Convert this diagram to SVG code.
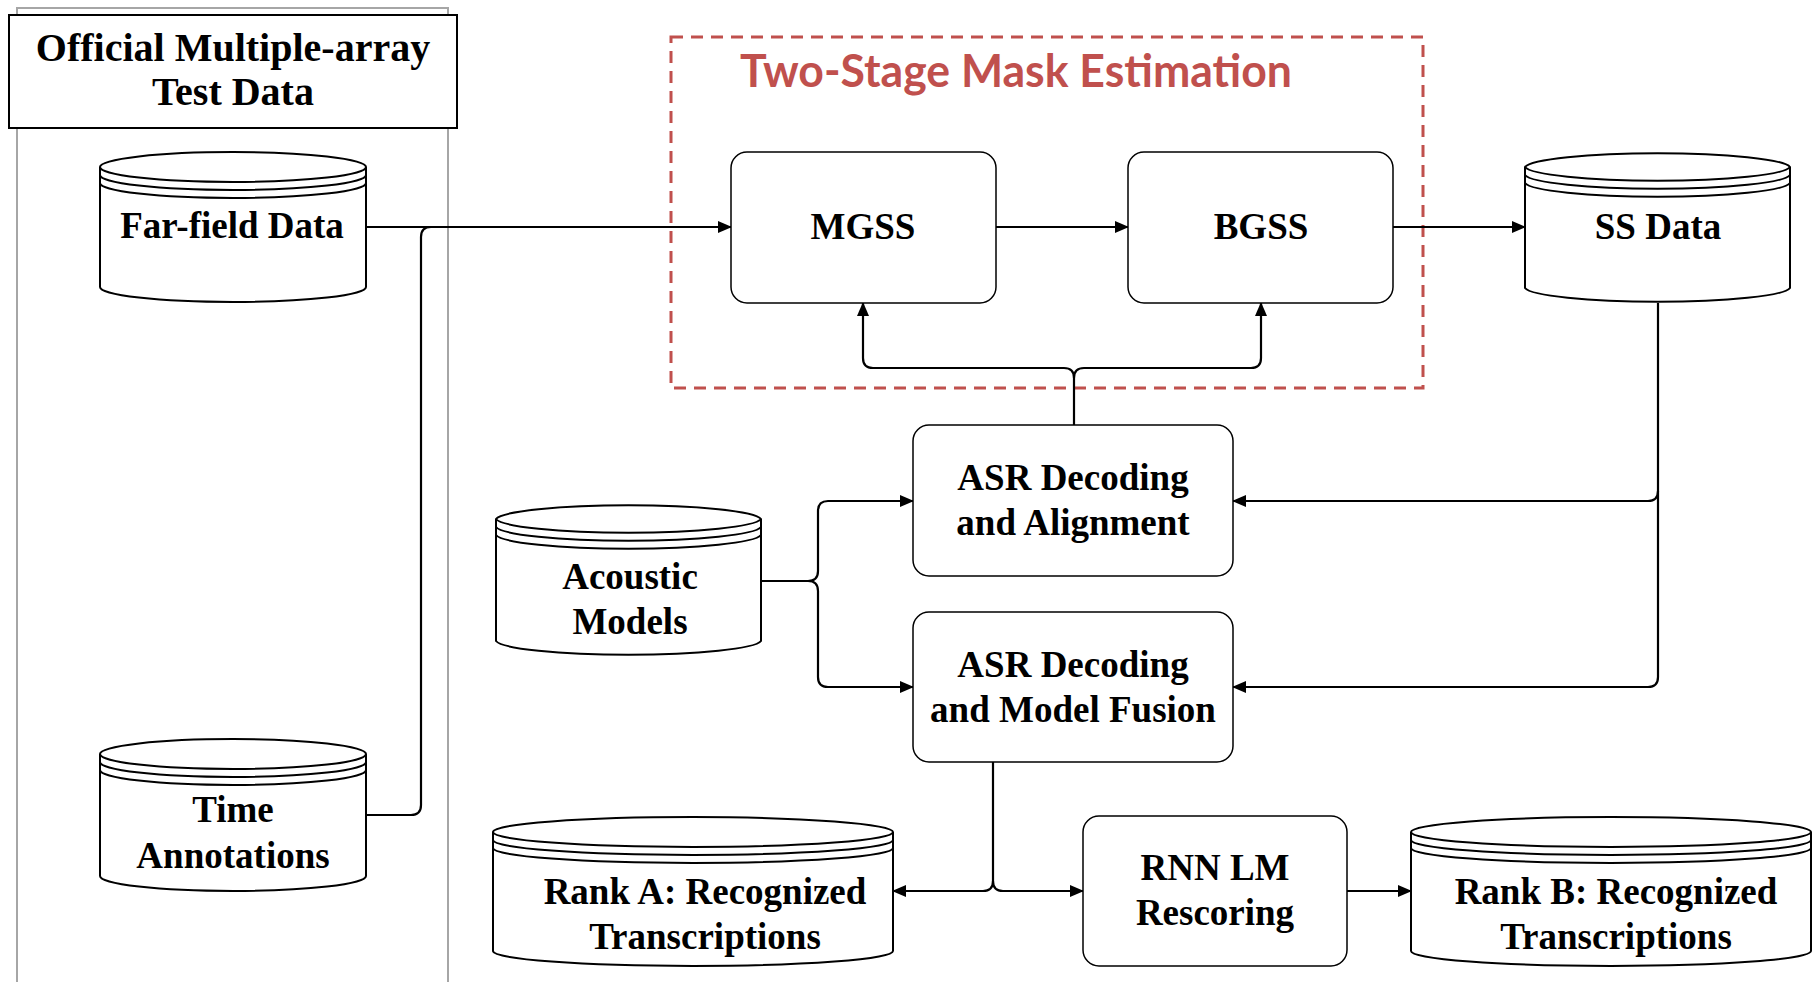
<svg xmlns="http://www.w3.org/2000/svg" width="1814" height="982" viewBox="0 0 1814 982">
<defs>
<marker id="arr" markerUnits="userSpaceOnUse" markerWidth="14" markerHeight="12" refX="13" refY="6" orient="auto">
<path d="M0,0 L14,6 L0,12 Z" fill="#000"/>
</marker>
<style>
.t{font-family:"Liberation Serif","Times New Roman",serif;font-weight:bold;font-size:37px;fill:#000;text-anchor:middle}
.cyl{fill:#fff;stroke:#000;stroke-width:2}
.box{fill:#fff;stroke:#000;stroke-width:1.5}
.c{fill:none;stroke:#000;stroke-width:2.2}
</style>
</defs>
<rect width="1814" height="982" fill="#fff"/>
<rect x="17" y="8" width="431" height="990" fill="none" stroke="#a6a6a6" stroke-width="2"/>
<g id="title">
<rect x="9" y="15" width="448" height="113" fill="#fff" stroke="#000" stroke-width="2"/>
<text class="t" x="233" y="61" style="font-size:40px">Official Multiple-array</text>
<text class="t" x="233" y="105" style="font-size:40px">Test Data</text>
</g>
<g id="mask-group">
<rect x="671" y="37" width="752" height="351" fill="none" stroke="#c0504d" stroke-width="3" stroke-dasharray="12,8"/>
<text x="740" y="87" font-family="Lato,'Open Sans',sans-serif" font-weight="bold" font-size="46" fill="#c0504d" textLength="552" lengthAdjust="spacingAndGlyphs">Two-Stage Mask Estimation</text>
</g>
<g id="connectors">
<path class="c" d="M366,227 H731" marker-end="url(#arr)"/>
<path class="c" d="M366,815 H411 Q421,815 421,805 V237 Q421,227 431,227"/>
<path class="c" d="M996,227 H1128" marker-end="url(#arr)"/>
<path class="c" d="M1393,227 H1525" marker-end="url(#arr)"/>
<path class="c" d="M1074,425 V378 Q1074,368 1064,368 H873 Q863,368 863,358 V303" marker-end="url(#arr)"/>
<path class="c" d="M1074,378 Q1074,368 1084,368 H1251 Q1261,368 1261,358 V303" marker-end="url(#arr)"/>
<path class="c" d="M1658,303 V491 Q1658,501 1648,501 H1233" marker-end="url(#arr)"/>
<path class="c" d="M1658,491 V677 Q1658,687 1648,687 H1233" marker-end="url(#arr)"/>
<path class="c" d="M761,581 H808 Q818,581 818,571 V511 Q818,501 828,501 H913" marker-end="url(#arr)"/>
<path class="c" d="M808,581 Q818,581 818,591 V677 Q818,687 828,687 H913" marker-end="url(#arr)"/>
<path class="c" d="M993,762 V881 Q993,891 983,891 H893" marker-end="url(#arr)"/>
<path class="c" d="M993,881 Q993,891 1003,891 H1083" marker-end="url(#arr)"/>
<path class="c" d="M1347,891 H1411" marker-end="url(#arr)"/>
</g>
<g id="far-field">
<path class="cyl" d="M100,167 A133,15 0 0 1 366,167 V287 A133,15 0 0 1 100,287 Z M100,167 A133,15 0 0 0 366,167 M100,175 A133,15 0 0 0 366,175 M100,183 A133,15 0 0 0 366,183"/>
<text class="t" x="232" y="238">Far-field Data</text>
</g>
<g id="time-annotations">
<path class="cyl" d="M100,754 A133,15 0 0 1 366,754 V876 A133,15 0 0 1 100,876 Z M100,754 A133,15 0 0 0 366,754 M100,762 A133,15 0 0 0 366,762 M100,770 A133,15 0 0 0 366,770"/>
<text class="t" x="233" y="822">Time</text>
<text class="t" x="233" y="868">Annotations</text>
</g>
<g id="mgss">
<rect class="box" x="731" y="152" width="265" height="151" rx="16"/>
<text class="t" x="863" y="239">MGSS</text>
</g>
<g id="bgss">
<rect class="box" x="1128" y="152" width="265" height="151" rx="16"/>
<text class="t" x="1261" y="239">BGSS</text>
</g>
<g id="ss-data">
<path class="cyl" d="M1525,167 A133,15 0 0 1 1790,167 V288 A133,15 0 0 1 1525,288 Z M1525,167 A133,15 0 0 0 1790,167 M1525,175 A133,15 0 0 0 1790,175 M1525,183 A133,15 0 0 0 1790,183"/>
<text class="t" x="1658" y="239">SS Data</text>
</g>
<g id="asr-align">
<rect class="box" x="913" y="425" width="320" height="151" rx="16"/>
<text class="t" x="1073" y="490">ASR Decoding</text>
<text class="t" x="1073" y="535">and Alignment</text>
</g>
<g id="asr-fusion">
<rect class="box" x="913" y="612" width="320" height="150" rx="16"/>
<text class="t" x="1073" y="677">ASR Decoding</text>
<text class="t" x="1073" y="722">and Model Fusion</text>
</g>
<g id="acoustic-models">
<path class="cyl" d="M496,519 A133,15 0 0 1 761,519 V641 A133,15 0 0 1 496,641 Z M496,519 A133,15 0 0 0 761,519 M496,527 A133,15 0 0 0 761,527 M496,535 A133,15 0 0 0 761,535"/>
<text class="t" x="630" y="589">Acoustic</text>
<text class="t" x="630" y="634">Models</text>
</g>
<g id="rank-a">
<path class="cyl" d="M493,832 A200,15 0 0 1 893,832 V951 A200,15 0 0 1 493,951 Z M493,832 A200,15 0 0 0 893,832 M493,840 A200,15 0 0 0 893,840 M493,848 A200,15 0 0 0 893,848"/>
<text class="t" x="705" y="904">Rank A: Recognized</text>
<text class="t" x="705" y="949">Transcriptions</text>
</g>
<g id="rnn-lm">
<rect class="box" x="1083" y="816" width="264" height="150" rx="16"/>
<text class="t" x="1215" y="880">RNN LM</text>
<text class="t" x="1215" y="925">Rescoring</text>
</g>
<g id="rank-b">
<path class="cyl" d="M1411,832 A200,15 0 0 1 1811,832 V951 A200,15 0 0 1 1411,951 Z M1411,832 A200,15 0 0 0 1811,832 M1411,840 A200,15 0 0 0 1811,840 M1411,848 A200,15 0 0 0 1811,848"/>
<text class="t" x="1616" y="904">Rank B: Recognized</text>
<text class="t" x="1616" y="949">Transcriptions</text>
</g>
</svg>
